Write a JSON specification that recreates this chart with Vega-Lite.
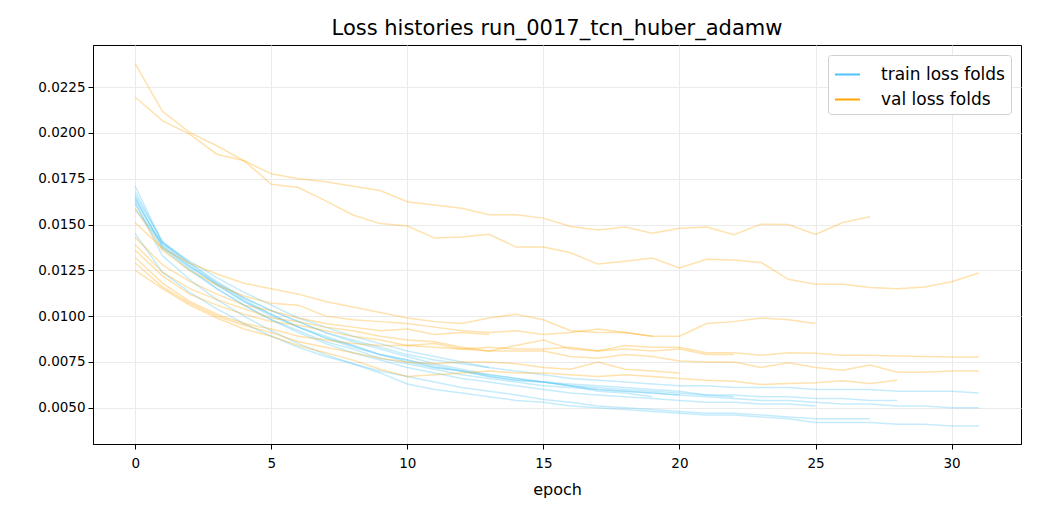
{
  "$schema": "https://vega.github.io/schema/vega-lite/v6.json",
  "autosize": "none",
  "width": 928,
  "height": 399,
  "padding": {"left": 93, "top": 45, "right": 19, "bottom": 76},
  "background": "white",
  "title": {"text": "Loss histories run_0017_tcn_huber_adamw", "fontSize": 21, "fontWeight": "normal", "font": "DejaVu Sans", "color": "black", "offset": 6},
  "config": {
    "font": "DejaVu Sans",
    "view": {"stroke": "black", "strokeWidth": 1},
    "axis": {"labelFontSize": 13.5, "titleFontSize": 16, "labelColor": "black", "titleColor": "black", "tickColor": "black", "domainColor": "black", "gridColor": "#ebebeb", "tickSize": 5, "labelPadding": 3, "titleFontWeight": "normal"}
  },
  "datasets": {
    "loss": [
      {"set":"train","fold":1,"epoch":0,"loss":0.0168},{"set":"train","fold":1,"epoch":1,"loss":0.0140},{"set":"train","fold":1,"epoch":2,"loss":0.0130},{"set":"train","fold":1,"epoch":3,"loss":0.0121},{"set":"train","fold":1,"epoch":4,"loss":0.0113},{"set":"train","fold":1,"epoch":5,"loss":0.0106},{"set":"train","fold":1,"epoch":6,"loss":0.0099},{"set":"train","fold":1,"epoch":7,"loss":0.0094},{"set":"train","fold":1,"epoch":8,"loss":0.0089},{"set":"train","fold":1,"epoch":9,"loss":0.0085},{"set":"train","fold":1,"epoch":10,"loss":0.0081},{"set":"train","fold":1,"epoch":11,"loss":0.0078},{"set":"train","fold":1,"epoch":12,"loss":0.0075},{"set":"train","fold":1,"epoch":13,"loss":0.0072},{"set":"train","fold":1,"epoch":14,"loss":0.0070},{"set":"train","fold":1,"epoch":15,"loss":0.0068},{"set":"train","fold":1,"epoch":16,"loss":0.0066},{"set":"train","fold":1,"epoch":17,"loss":0.0065},{"set":"train","fold":1,"epoch":18,"loss":0.0064},{"set":"train","fold":1,"epoch":19,"loss":0.0063},{"set":"train","fold":1,"epoch":20,"loss":0.0062},{"set":"train","fold":1,"epoch":21,"loss":0.0062},{"set":"train","fold":1,"epoch":22,"loss":0.0061},{"set":"train","fold":1,"epoch":23,"loss":0.0061},{"set":"train","fold":1,"epoch":24,"loss":0.0061},{"set":"train","fold":1,"epoch":25,"loss":0.0060},{"set":"train","fold":1,"epoch":26,"loss":0.0060},{"set":"train","fold":1,"epoch":27,"loss":0.0060},{"set":"train","fold":1,"epoch":28,"loss":0.0059},{"set":"train","fold":1,"epoch":29,"loss":0.0059},{"set":"train","fold":1,"epoch":30,"loss":0.0059},{"set":"train","fold":1,"epoch":31,"loss":0.0058},
      {"set":"train","fold":2,"epoch":0,"loss":0.0145},{"set":"train","fold":2,"epoch":1,"loss":0.0124},{"set":"train","fold":2,"epoch":2,"loss":0.0113},{"set":"train","fold":2,"epoch":3,"loss":0.0104},{"set":"train","fold":2,"epoch":4,"loss":0.0096},{"set":"train","fold":2,"epoch":5,"loss":0.0089},{"set":"train","fold":2,"epoch":6,"loss":0.0083},{"set":"train","fold":2,"epoch":7,"loss":0.0078},{"set":"train","fold":2,"epoch":8,"loss":0.0074},{"set":"train","fold":2,"epoch":9,"loss":0.0070},{"set":"train","fold":2,"epoch":10,"loss":0.0067},{"set":"train","fold":2,"epoch":11,"loss":0.0064},{"set":"train","fold":2,"epoch":12,"loss":0.0061},{"set":"train","fold":2,"epoch":13,"loss":0.0059},{"set":"train","fold":2,"epoch":14,"loss":0.0057},{"set":"train","fold":2,"epoch":15,"loss":0.00545},{"set":"train","fold":2,"epoch":16,"loss":0.0053},{"set":"train","fold":2,"epoch":17,"loss":0.0051},{"set":"train","fold":2,"epoch":18,"loss":0.0050},{"set":"train","fold":2,"epoch":19,"loss":0.0049},{"set":"train","fold":2,"epoch":20,"loss":0.0048},{"set":"train","fold":2,"epoch":21,"loss":0.0047},{"set":"train","fold":2,"epoch":22,"loss":0.0047},{"set":"train","fold":2,"epoch":23,"loss":0.0046},{"set":"train","fold":2,"epoch":24,"loss":0.0045},{"set":"train","fold":2,"epoch":25,"loss":0.0044},{"set":"train","fold":2,"epoch":26,"loss":0.0044},{"set":"train","fold":2,"epoch":27,"loss":0.0044},
      {"set":"train","fold":3,"epoch":0,"loss":0.0164},{"set":"train","fold":3,"epoch":1,"loss":0.0138},{"set":"train","fold":3,"epoch":2,"loss":0.0126},{"set":"train","fold":3,"epoch":3,"loss":0.0115},{"set":"train","fold":3,"epoch":4,"loss":0.0106},{"set":"train","fold":3,"epoch":5,"loss":0.0098},{"set":"train","fold":3,"epoch":6,"loss":0.0091},{"set":"train","fold":3,"epoch":7,"loss":0.0085},{"set":"train","fold":3,"epoch":8,"loss":0.0080},{"set":"train","fold":3,"epoch":9,"loss":0.0076},{"set":"train","fold":3,"epoch":10,"loss":0.0072},{"set":"train","fold":3,"epoch":11,"loss":0.0069},{"set":"train","fold":3,"epoch":12,"loss":0.0066},{"set":"train","fold":3,"epoch":13,"loss":0.0064},{"set":"train","fold":3,"epoch":14,"loss":0.0062},{"set":"train","fold":3,"epoch":15,"loss":0.0060},{"set":"train","fold":3,"epoch":16,"loss":0.0058},{"set":"train","fold":3,"epoch":17,"loss":0.0057},{"set":"train","fold":3,"epoch":18,"loss":0.0056},{"set":"train","fold":3,"epoch":19,"loss":0.0055},{"set":"train","fold":3,"epoch":20,"loss":0.0054},{"set":"train","fold":3,"epoch":21,"loss":0.0053},{"set":"train","fold":3,"epoch":22,"loss":0.0053},{"set":"train","fold":3,"epoch":23,"loss":0.0052},{"set":"train","fold":3,"epoch":24,"loss":0.0052},{"set":"train","fold":3,"epoch":25,"loss":0.0051},
      {"set":"train","fold":4,"epoch":0,"loss":0.0165},{"set":"train","fold":4,"epoch":1,"loss":0.0138},{"set":"train","fold":4,"epoch":2,"loss":0.0127},{"set":"train","fold":4,"epoch":3,"loss":0.0118},{"set":"train","fold":4,"epoch":4,"loss":0.0110},{"set":"train","fold":4,"epoch":5,"loss":0.0103},{"set":"train","fold":4,"epoch":6,"loss":0.0097},{"set":"train","fold":4,"epoch":7,"loss":0.0091},{"set":"train","fold":4,"epoch":8,"loss":0.0086},{"set":"train","fold":4,"epoch":9,"loss":0.0082},{"set":"train","fold":4,"epoch":10,"loss":0.0078},{"set":"train","fold":4,"epoch":11,"loss":0.0074},{"set":"train","fold":4,"epoch":12,"loss":0.0071},{"set":"train","fold":4,"epoch":13,"loss":0.0068},{"set":"train","fold":4,"epoch":14,"loss":0.0066},{"set":"train","fold":4,"epoch":15,"loss":0.0064},{"set":"train","fold":4,"epoch":16,"loss":0.0062},{"set":"train","fold":4,"epoch":17,"loss":0.0060},{"set":"train","fold":4,"epoch":18,"loss":0.0059},{"set":"train","fold":4,"epoch":19,"loss":0.0058},{"set":"train","fold":4,"epoch":20,"loss":0.0057},{"set":"train","fold":4,"epoch":21,"loss":0.0056},{"set":"train","fold":4,"epoch":22,"loss":0.0055},{"set":"train","fold":4,"epoch":23,"loss":0.0054},{"set":"train","fold":4,"epoch":24,"loss":0.0054},{"set":"train","fold":4,"epoch":25,"loss":0.0053},{"set":"train","fold":4,"epoch":26,"loss":0.0052},{"set":"train","fold":4,"epoch":27,"loss":0.0052},{"set":"train","fold":4,"epoch":28,"loss":0.0051},{"set":"train","fold":4,"epoch":29,"loss":0.0051},{"set":"train","fold":4,"epoch":30,"loss":0.0050},{"set":"train","fold":4,"epoch":31,"loss":0.0050},
      {"set":"train","fold":5,"epoch":0,"loss":0.0162},{"set":"train","fold":5,"epoch":1,"loss":0.0133},{"set":"train","fold":5,"epoch":2,"loss":0.0120},{"set":"train","fold":5,"epoch":3,"loss":0.0109},{"set":"train","fold":5,"epoch":4,"loss":0.0100},{"set":"train","fold":5,"epoch":5,"loss":0.0092},{"set":"train","fold":5,"epoch":6,"loss":0.0085},{"set":"train","fold":5,"epoch":7,"loss":0.0079},{"set":"train","fold":5,"epoch":8,"loss":0.0074},{"set":"train","fold":5,"epoch":9,"loss":0.0069},{"set":"train","fold":5,"epoch":10,"loss":0.0063},{"set":"train","fold":5,"epoch":11,"loss":0.0060},{"set":"train","fold":5,"epoch":12,"loss":0.0058},{"set":"train","fold":5,"epoch":13,"loss":0.0056},{"set":"train","fold":5,"epoch":14,"loss":0.0054},{"set":"train","fold":5,"epoch":15,"loss":0.0053},{"set":"train","fold":5,"epoch":16,"loss":0.0051},{"set":"train","fold":5,"epoch":17,"loss":0.0050},{"set":"train","fold":5,"epoch":18,"loss":0.0049},{"set":"train","fold":5,"epoch":19,"loss":0.0048},{"set":"train","fold":5,"epoch":20,"loss":0.0047},{"set":"train","fold":5,"epoch":21,"loss":0.0046},{"set":"train","fold":5,"epoch":22,"loss":0.0046},{"set":"train","fold":5,"epoch":23,"loss":0.0045},{"set":"train","fold":5,"epoch":24,"loss":0.0044},{"set":"train","fold":5,"epoch":25,"loss":0.0042},{"set":"train","fold":5,"epoch":26,"loss":0.0042},{"set":"train","fold":5,"epoch":27,"loss":0.0042},{"set":"train","fold":5,"epoch":28,"loss":0.0041},{"set":"train","fold":5,"epoch":29,"loss":0.0041},{"set":"train","fold":5,"epoch":30,"loss":0.0040},{"set":"train","fold":5,"epoch":31,"loss":0.0040},
      {"set":"train","fold":6,"epoch":0,"loss":0.0171},{"set":"train","fold":6,"epoch":1,"loss":0.0140},{"set":"train","fold":6,"epoch":2,"loss":0.0128},{"set":"train","fold":6,"epoch":3,"loss":0.0117},{"set":"train","fold":6,"epoch":4,"loss":0.0108},{"set":"train","fold":6,"epoch":5,"loss":0.0101},{"set":"train","fold":6,"epoch":6,"loss":0.0094},{"set":"train","fold":6,"epoch":7,"loss":0.0088},{"set":"train","fold":6,"epoch":8,"loss":0.0083},{"set":"train","fold":6,"epoch":9,"loss":0.0079},{"set":"train","fold":6,"epoch":10,"loss":0.0075},{"set":"train","fold":6,"epoch":11,"loss":0.0072},{"set":"train","fold":6,"epoch":12,"loss":0.0070},{"set":"train","fold":6,"epoch":13,"loss":0.0067},{"set":"train","fold":6,"epoch":14,"loss":0.0065},{"set":"train","fold":6,"epoch":15,"loss":0.0064},{"set":"train","fold":6,"epoch":16,"loss":0.0062},{"set":"train","fold":6,"epoch":17,"loss":0.0061},{"set":"train","fold":6,"epoch":18,"loss":0.0060},{"set":"train","fold":6,"epoch":19,"loss":0.0059},{"set":"train","fold":6,"epoch":20,"loss":0.0058},{"set":"train","fold":6,"epoch":21,"loss":0.0057},{"set":"train","fold":6,"epoch":22,"loss":0.0057},{"set":"train","fold":6,"epoch":23,"loss":0.0056},{"set":"train","fold":6,"epoch":24,"loss":0.0056},{"set":"train","fold":6,"epoch":25,"loss":0.0055},{"set":"train","fold":6,"epoch":26,"loss":0.0055},{"set":"train","fold":6,"epoch":27,"loss":0.0054},{"set":"train","fold":6,"epoch":28,"loss":0.0054},
      {"set":"train","fold":7,"epoch":0,"loss":0.0163},{"set":"train","fold":7,"epoch":1,"loss":0.0139},{"set":"train","fold":7,"epoch":2,"loss":0.0127},{"set":"train","fold":7,"epoch":3,"loss":0.0117},{"set":"train","fold":7,"epoch":4,"loss":0.0108},{"set":"train","fold":7,"epoch":5,"loss":0.0100},{"set":"train","fold":7,"epoch":6,"loss":0.0094},{"set":"train","fold":7,"epoch":7,"loss":0.0088},{"set":"train","fold":7,"epoch":8,"loss":0.0084},{"set":"train","fold":7,"epoch":9,"loss":0.0079},{"set":"train","fold":7,"epoch":10,"loss":0.0076},{"set":"train","fold":7,"epoch":11,"loss":0.0073},{"set":"train","fold":7,"epoch":12,"loss":0.0070},{"set":"train","fold":7,"epoch":13,"loss":0.0068},{"set":"train","fold":7,"epoch":14,"loss":0.0066},{"set":"train","fold":7,"epoch":15,"loss":0.0064},{"set":"train","fold":7,"epoch":16,"loss":0.0063},{"set":"train","fold":7,"epoch":17,"loss":0.0062},{"set":"train","fold":7,"epoch":18,"loss":0.0061},{"set":"train","fold":7,"epoch":19,"loss":0.0060},{"set":"train","fold":7,"epoch":20,"loss":0.0059},{"set":"train","fold":7,"epoch":21,"loss":0.0057},{"set":"train","fold":7,"epoch":22,"loss":0.0056},
      {"set":"train","fold":8,"epoch":0,"loss":0.0166},{"set":"train","fold":8,"epoch":1,"loss":0.0141},{"set":"train","fold":8,"epoch":2,"loss":0.0129},{"set":"train","fold":8,"epoch":3,"loss":0.0118},{"set":"train","fold":8,"epoch":4,"loss":0.0109},{"set":"train","fold":8,"epoch":5,"loss":0.0101},{"set":"train","fold":8,"epoch":6,"loss":0.0094},{"set":"train","fold":8,"epoch":7,"loss":0.0089},{"set":"train","fold":8,"epoch":8,"loss":0.0084},{"set":"train","fold":8,"epoch":9,"loss":0.0079},{"set":"train","fold":8,"epoch":10,"loss":0.0076},{"set":"train","fold":8,"epoch":11,"loss":0.0072},{"set":"train","fold":8,"epoch":12,"loss":0.0070},{"set":"train","fold":8,"epoch":13,"loss":0.0067},{"set":"train","fold":8,"epoch":14,"loss":0.0065},{"set":"train","fold":8,"epoch":15,"loss":0.0064},{"set":"train","fold":8,"epoch":16,"loss":0.0062},{"set":"train","fold":8,"epoch":17,"loss":0.0059},{"set":"train","fold":8,"epoch":18,"loss":0.0058},{"set":"train","fold":8,"epoch":19,"loss":0.0056},
      {"set":"train","fold":9,"epoch":0,"loss":0.0161},{"set":"train","fold":9,"epoch":1,"loss":0.0137},{"set":"train","fold":9,"epoch":2,"loss":0.0125},{"set":"train","fold":9,"epoch":3,"loss":0.0115},{"set":"train","fold":9,"epoch":4,"loss":0.0106},{"set":"train","fold":9,"epoch":5,"loss":0.0098},{"set":"train","fold":9,"epoch":6,"loss":0.0092},{"set":"train","fold":9,"epoch":7,"loss":0.0086},{"set":"train","fold":9,"epoch":8,"loss":0.0082},{"set":"train","fold":9,"epoch":9,"loss":0.0077},{"set":"train","fold":9,"epoch":10,"loss":0.0074},{"set":"train","fold":9,"epoch":11,"loss":0.0071},{"set":"train","fold":9,"epoch":12,"loss":0.0068},{"set":"train","fold":9,"epoch":13,"loss":0.0066},{"set":"train","fold":9,"epoch":14,"loss":0.0064},{"set":"train","fold":9,"epoch":15,"loss":0.0062},{"set":"train","fold":9,"epoch":16,"loss":0.0061},{"set":"train","fold":9,"epoch":17,"loss":0.0060},{"set":"train","fold":9,"epoch":18,"loss":0.0059},{"set":"train","fold":9,"epoch":19,"loss":0.0058},{"set":"train","fold":9,"epoch":20,"loss":0.0057},
      {"set":"train","fold":10,"epoch":0,"loss":0.0158},{"set":"train","fold":10,"epoch":1,"loss":0.0140},{"set":"train","fold":10,"epoch":2,"loss":0.0129},{"set":"train","fold":10,"epoch":3,"loss":0.0119},{"set":"train","fold":10,"epoch":4,"loss":0.0110},{"set":"train","fold":10,"epoch":5,"loss":0.0103},{"set":"train","fold":10,"epoch":6,"loss":0.0097},{"set":"train","fold":10,"epoch":7,"loss":0.0091},{"set":"train","fold":10,"epoch":8,"loss":0.0087},{"set":"train","fold":10,"epoch":9,"loss":0.0083},{"set":"train","fold":10,"epoch":10,"loss":0.0079},{"set":"train","fold":10,"epoch":11,"loss":0.0076},{"set":"train","fold":10,"epoch":12,"loss":0.0074},{"set":"train","fold":10,"epoch":13,"loss":0.0072},
      {"set":"val","fold":1,"epoch":0,"loss":0.02378},{"set":"val","fold":1,"epoch":1,"loss":0.02118},{"set":"val","fold":1,"epoch":2,"loss":0.02003},{"set":"val","fold":1,"epoch":3,"loss":0.0193},{"set":"val","fold":1,"epoch":4,"loss":0.01848},{"set":"val","fold":1,"epoch":5,"loss":0.0172},{"set":"val","fold":1,"epoch":6,"loss":0.01702},{"set":"val","fold":1,"epoch":7,"loss":0.01629},{"set":"val","fold":1,"epoch":8,"loss":0.01552},{"set":"val","fold":1,"epoch":9,"loss":0.01505},{"set":"val","fold":1,"epoch":10,"loss":0.01492},{"set":"val","fold":1,"epoch":11,"loss":0.01426},{"set":"val","fold":1,"epoch":12,"loss":0.01432},{"set":"val","fold":1,"epoch":13,"loss":0.01447},{"set":"val","fold":1,"epoch":14,"loss":0.01377},{"set":"val","fold":1,"epoch":15,"loss":0.01377},{"set":"val","fold":1,"epoch":16,"loss":0.01346},{"set":"val","fold":1,"epoch":17,"loss":0.01284},{"set":"val","fold":1,"epoch":18,"loss":0.01299},{"set":"val","fold":1,"epoch":19,"loss":0.01317},{"set":"val","fold":1,"epoch":20,"loss":0.01263},{"set":"val","fold":1,"epoch":21,"loss":0.0131},{"set":"val","fold":1,"epoch":22,"loss":0.01306},{"set":"val","fold":1,"epoch":23,"loss":0.01293},{"set":"val","fold":1,"epoch":24,"loss":0.01201},{"set":"val","fold":1,"epoch":25,"loss":0.01174},{"set":"val","fold":1,"epoch":26,"loss":0.01174},{"set":"val","fold":1,"epoch":27,"loss":0.01156},{"set":"val","fold":1,"epoch":28,"loss":0.0115},{"set":"val","fold":1,"epoch":29,"loss":0.01159},{"set":"val","fold":1,"epoch":30,"loss":0.01188},{"set":"val","fold":1,"epoch":31,"loss":0.01235},
      {"set":"val","fold":2,"epoch":0,"loss":0.02195},{"set":"val","fold":2,"epoch":1,"loss":0.02067},{"set":"val","fold":2,"epoch":2,"loss":0.01994},{"set":"val","fold":2,"epoch":3,"loss":0.01884},{"set":"val","fold":2,"epoch":4,"loss":0.01848},{"set":"val","fold":2,"epoch":5,"loss":0.01777},{"set":"val","fold":2,"epoch":6,"loss":0.0175},{"set":"val","fold":2,"epoch":7,"loss":0.01733},{"set":"val","fold":2,"epoch":8,"loss":0.01709},{"set":"val","fold":2,"epoch":9,"loss":0.01686},{"set":"val","fold":2,"epoch":10,"loss":0.01624},{"set":"val","fold":2,"epoch":11,"loss":0.01606},{"set":"val","fold":2,"epoch":12,"loss":0.01589},{"set":"val","fold":2,"epoch":13,"loss":0.01553},{"set":"val","fold":2,"epoch":14,"loss":0.01553},{"set":"val","fold":2,"epoch":15,"loss":0.01535},{"set":"val","fold":2,"epoch":16,"loss":0.01489},{"set":"val","fold":2,"epoch":17,"loss":0.0147},{"set":"val","fold":2,"epoch":18,"loss":0.01487},{"set":"val","fold":2,"epoch":19,"loss":0.01453},{"set":"val","fold":2,"epoch":20,"loss":0.0148},{"set":"val","fold":2,"epoch":21,"loss":0.01487},{"set":"val","fold":2,"epoch":22,"loss":0.01444},{"set":"val","fold":2,"epoch":23,"loss":0.01502},{"set":"val","fold":2,"epoch":24,"loss":0.015},{"set":"val","fold":2,"epoch":25,"loss":0.01446},{"set":"val","fold":2,"epoch":26,"loss":0.01511},{"set":"val","fold":2,"epoch":27,"loss":0.01542},
      {"set":"val","fold":3,"epoch":0,"loss":0.0151},{"set":"val","fold":3,"epoch":1,"loss":0.0137},{"set":"val","fold":3,"epoch":2,"loss":0.0129},{"set":"val","fold":3,"epoch":3,"loss":0.0123},{"set":"val","fold":3,"epoch":4,"loss":0.0118},{"set":"val","fold":3,"epoch":5,"loss":0.0115},{"set":"val","fold":3,"epoch":6,"loss":0.0112},{"set":"val","fold":3,"epoch":7,"loss":0.0108},{"set":"val","fold":3,"epoch":8,"loss":0.0105},{"set":"val","fold":3,"epoch":9,"loss":0.0102},{"set":"val","fold":3,"epoch":10,"loss":0.0099},{"set":"val","fold":3,"epoch":11,"loss":0.0097},{"set":"val","fold":3,"epoch":12,"loss":0.0096},{"set":"val","fold":3,"epoch":13,"loss":0.0099},{"set":"val","fold":3,"epoch":14,"loss":0.0101},{"set":"val","fold":3,"epoch":15,"loss":0.0098},{"set":"val","fold":3,"epoch":16,"loss":0.0092},{"set":"val","fold":3,"epoch":17,"loss":0.0091},{"set":"val","fold":3,"epoch":18,"loss":0.0091},{"set":"val","fold":3,"epoch":19,"loss":0.0089},{"set":"val","fold":3,"epoch":20,"loss":0.0089},{"set":"val","fold":3,"epoch":21,"loss":0.0096},{"set":"val","fold":3,"epoch":22,"loss":0.0097},{"set":"val","fold":3,"epoch":23,"loss":0.0099},{"set":"val","fold":3,"epoch":24,"loss":0.0098},{"set":"val","fold":3,"epoch":25,"loss":0.0096},
      {"set":"val","fold":4,"epoch":0,"loss":0.0139},{"set":"val","fold":4,"epoch":1,"loss":0.0124},{"set":"val","fold":4,"epoch":2,"loss":0.0115},{"set":"val","fold":4,"epoch":3,"loss":0.0109},{"set":"val","fold":4,"epoch":4,"loss":0.0104},{"set":"val","fold":4,"epoch":5,"loss":0.0099},{"set":"val","fold":4,"epoch":6,"loss":0.0097},{"set":"val","fold":4,"epoch":7,"loss":0.0094},{"set":"val","fold":4,"epoch":8,"loss":0.0092},{"set":"val","fold":4,"epoch":9,"loss":0.0089},{"set":"val","fold":4,"epoch":10,"loss":0.0087},{"set":"val","fold":4,"epoch":11,"loss":0.0086},{"set":"val","fold":4,"epoch":12,"loss":0.0083},{"set":"val","fold":4,"epoch":13,"loss":0.0081},{"set":"val","fold":4,"epoch":14,"loss":0.0084},{"set":"val","fold":4,"epoch":15,"loss":0.0087},{"set":"val","fold":4,"epoch":16,"loss":0.0082},{"set":"val","fold":4,"epoch":17,"loss":0.0081},{"set":"val","fold":4,"epoch":18,"loss":0.0084},{"set":"val","fold":4,"epoch":19,"loss":0.0083},{"set":"val","fold":4,"epoch":20,"loss":0.0083},{"set":"val","fold":4,"epoch":21,"loss":0.008},{"set":"val","fold":4,"epoch":22,"loss":0.008},{"set":"val","fold":4,"epoch":23,"loss":0.00786},{"set":"val","fold":4,"epoch":24,"loss":0.008},{"set":"val","fold":4,"epoch":25,"loss":0.00797},{"set":"val","fold":4,"epoch":26,"loss":0.00786},{"set":"val","fold":4,"epoch":27,"loss":0.00786},{"set":"val","fold":4,"epoch":28,"loss":0.00782},{"set":"val","fold":4,"epoch":29,"loss":0.0078},{"set":"val","fold":4,"epoch":30,"loss":0.00777},{"set":"val","fold":4,"epoch":31,"loss":0.00777},
      {"set":"val","fold":5,"epoch":0,"loss":0.0132},{"set":"val","fold":5,"epoch":1,"loss":0.0118},{"set":"val","fold":5,"epoch":2,"loss":0.0108},{"set":"val","fold":5,"epoch":3,"loss":0.0101},{"set":"val","fold":5,"epoch":4,"loss":0.0096},{"set":"val","fold":5,"epoch":5,"loss":0.0093},{"set":"val","fold":5,"epoch":6,"loss":0.0089},{"set":"val","fold":5,"epoch":7,"loss":0.0087},{"set":"val","fold":5,"epoch":8,"loss":0.0085},{"set":"val","fold":5,"epoch":9,"loss":0.0084},{"set":"val","fold":5,"epoch":10,"loss":0.0084},{"set":"val","fold":5,"epoch":11,"loss":0.0083},{"set":"val","fold":5,"epoch":12,"loss":0.0082},{"set":"val","fold":5,"epoch":13,"loss":0.0081},{"set":"val","fold":5,"epoch":14,"loss":0.0081},{"set":"val","fold":5,"epoch":15,"loss":0.0081},{"set":"val","fold":5,"epoch":16,"loss":0.0078},{"set":"val","fold":5,"epoch":17,"loss":0.0077},{"set":"val","fold":5,"epoch":18,"loss":0.0079},{"set":"val","fold":5,"epoch":19,"loss":0.0078},{"set":"val","fold":5,"epoch":20,"loss":0.00755},{"set":"val","fold":5,"epoch":21,"loss":0.0075},{"set":"val","fold":5,"epoch":22,"loss":0.0075},{"set":"val","fold":5,"epoch":23,"loss":0.0072},{"set":"val","fold":5,"epoch":24,"loss":0.00746},{"set":"val","fold":5,"epoch":25,"loss":0.0072},{"set":"val","fold":5,"epoch":26,"loss":0.00705},{"set":"val","fold":5,"epoch":27,"loss":0.00733},{"set":"val","fold":5,"epoch":28,"loss":0.00694},{"set":"val","fold":5,"epoch":29,"loss":0.00694},{"set":"val","fold":5,"epoch":30,"loss":0.007},{"set":"val","fold":5,"epoch":31,"loss":0.007},
      {"set":"val","fold":6,"epoch":0,"loss":0.0125},{"set":"val","fold":6,"epoch":1,"loss":0.0115},{"set":"val","fold":6,"epoch":2,"loss":0.0106},{"set":"val","fold":6,"epoch":3,"loss":0.0099},{"set":"val","fold":6,"epoch":4,"loss":0.0093},{"set":"val","fold":6,"epoch":5,"loss":0.0089},{"set":"val","fold":6,"epoch":6,"loss":0.0084},{"set":"val","fold":6,"epoch":7,"loss":0.008},{"set":"val","fold":6,"epoch":8,"loss":0.0076},{"set":"val","fold":6,"epoch":9,"loss":0.0071},{"set":"val","fold":6,"epoch":10,"loss":0.0067},{"set":"val","fold":6,"epoch":11,"loss":0.0068},{"set":"val","fold":6,"epoch":12,"loss":0.0069},{"set":"val","fold":6,"epoch":13,"loss":0.007},{"set":"val","fold":6,"epoch":14,"loss":0.0069},{"set":"val","fold":6,"epoch":15,"loss":0.0069},{"set":"val","fold":6,"epoch":16,"loss":0.0068},{"set":"val","fold":6,"epoch":17,"loss":0.0067},{"set":"val","fold":6,"epoch":18,"loss":0.0068},{"set":"val","fold":6,"epoch":19,"loss":0.0067},{"set":"val","fold":6,"epoch":20,"loss":0.0066},{"set":"val","fold":6,"epoch":21,"loss":0.0065},{"set":"val","fold":6,"epoch":22,"loss":0.00645},{"set":"val","fold":6,"epoch":23,"loss":0.00627},{"set":"val","fold":6,"epoch":24,"loss":0.00632},{"set":"val","fold":6,"epoch":25,"loss":0.00636},{"set":"val","fold":6,"epoch":26,"loss":0.00647},{"set":"val","fold":6,"epoch":27,"loss":0.00632},{"set":"val","fold":6,"epoch":28,"loss":0.0065},
      {"set":"val","fold":7,"epoch":0,"loss":0.0136},{"set":"val","fold":7,"epoch":1,"loss":0.0122},{"set":"val","fold":7,"epoch":2,"loss":0.0112},{"set":"val","fold":7,"epoch":3,"loss":0.0106},{"set":"val","fold":7,"epoch":4,"loss":0.0101},{"set":"val","fold":7,"epoch":5,"loss":0.0097},{"set":"val","fold":7,"epoch":6,"loss":0.0095},{"set":"val","fold":7,"epoch":7,"loss":0.0092},{"set":"val","fold":7,"epoch":8,"loss":0.0089},{"set":"val","fold":7,"epoch":9,"loss":0.0087},{"set":"val","fold":7,"epoch":10,"loss":0.0084},{"set":"val","fold":7,"epoch":11,"loss":0.0085},{"set":"val","fold":7,"epoch":12,"loss":0.0082},{"set":"val","fold":7,"epoch":13,"loss":0.0083},{"set":"val","fold":7,"epoch":14,"loss":0.0082},{"set":"val","fold":7,"epoch":15,"loss":0.0082},{"set":"val","fold":7,"epoch":16,"loss":0.0083},{"set":"val","fold":7,"epoch":17,"loss":0.0081},{"set":"val","fold":7,"epoch":18,"loss":0.0082},{"set":"val","fold":7,"epoch":19,"loss":0.0081},{"set":"val","fold":7,"epoch":20,"loss":0.0082},{"set":"val","fold":7,"epoch":21,"loss":0.0079},{"set":"val","fold":7,"epoch":22,"loss":0.0079},
      {"set":"val","fold":8,"epoch":0,"loss":0.0159},{"set":"val","fold":8,"epoch":1,"loss":0.0136},{"set":"val","fold":8,"epoch":2,"loss":0.0125},{"set":"val","fold":8,"epoch":3,"loss":0.0117},{"set":"val","fold":8,"epoch":4,"loss":0.0111},{"set":"val","fold":8,"epoch":5,"loss":0.0107},{"set":"val","fold":8,"epoch":6,"loss":0.0106},{"set":"val","fold":8,"epoch":7,"loss":0.01},{"set":"val","fold":8,"epoch":8,"loss":0.0098},{"set":"val","fold":8,"epoch":9,"loss":0.0097},{"set":"val","fold":8,"epoch":10,"loss":0.0096},{"set":"val","fold":8,"epoch":11,"loss":0.0094},{"set":"val","fold":8,"epoch":12,"loss":0.0092},{"set":"val","fold":8,"epoch":13,"loss":0.0091},{"set":"val","fold":8,"epoch":14,"loss":0.0092},{"set":"val","fold":8,"epoch":15,"loss":0.009},{"set":"val","fold":8,"epoch":16,"loss":0.0091},{"set":"val","fold":8,"epoch":17,"loss":0.0093},{"set":"val","fold":8,"epoch":18,"loss":0.0091},{"set":"val","fold":8,"epoch":19,"loss":0.0089},
      {"set":"val","fold":9,"epoch":0,"loss":0.0129},{"set":"val","fold":9,"epoch":1,"loss":0.0116},{"set":"val","fold":9,"epoch":2,"loss":0.0107},{"set":"val","fold":9,"epoch":3,"loss":0.01},{"set":"val","fold":9,"epoch":4,"loss":0.0095},{"set":"val","fold":9,"epoch":5,"loss":0.0091},{"set":"val","fold":9,"epoch":6,"loss":0.0086},{"set":"val","fold":9,"epoch":7,"loss":0.0083},{"set":"val","fold":9,"epoch":8,"loss":0.008},{"set":"val","fold":9,"epoch":9,"loss":0.0077},{"set":"val","fold":9,"epoch":10,"loss":0.0075},{"set":"val","fold":9,"epoch":11,"loss":0.0074},{"set":"val","fold":9,"epoch":12,"loss":0.0075},{"set":"val","fold":9,"epoch":13,"loss":0.0075},{"set":"val","fold":9,"epoch":14,"loss":0.0074},{"set":"val","fold":9,"epoch":15,"loss":0.0072},{"set":"val","fold":9,"epoch":16,"loss":0.0071},{"set":"val","fold":9,"epoch":17,"loss":0.0075},{"set":"val","fold":9,"epoch":18,"loss":0.0071},{"set":"val","fold":9,"epoch":19,"loss":0.007},{"set":"val","fold":9,"epoch":20,"loss":0.0069},
      {"set":"val","fold":10,"epoch":0,"loss":0.0143},{"set":"val","fold":10,"epoch":1,"loss":0.0128},{"set":"val","fold":10,"epoch":2,"loss":0.0119},{"set":"val","fold":10,"epoch":3,"loss":0.0112},{"set":"val","fold":10,"epoch":4,"loss":0.0106},{"set":"val","fold":10,"epoch":5,"loss":0.0103},{"set":"val","fold":10,"epoch":6,"loss":0.0099},{"set":"val","fold":10,"epoch":7,"loss":0.0096},{"set":"val","fold":10,"epoch":8,"loss":0.0094},{"set":"val","fold":10,"epoch":9,"loss":0.0092},{"set":"val","fold":10,"epoch":10,"loss":0.0093},{"set":"val","fold":10,"epoch":11,"loss":0.009},{"set":"val","fold":10,"epoch":12,"loss":0.0091},{"set":"val","fold":10,"epoch":13,"loss":0.009}
    ]
  },
  "data": {"name": "loss"},
  "mark": {"type": "line", "strokeWidth": 1.5, "opacity": 0.32, "clip": true},
  "encoding": {
    "x": {
      "field": "epoch", "type": "quantitative",
      "scale": {"domain": [-1.55, 32.55], "nice": false, "zero": false},
      "axis": {"values": [0, 5, 10, 15, 20, 25, 30], "format": "d", "title": "epoch", "titlePadding": 12, "labelPadding": 7, "grid": true}
    },
    "y": {
      "field": "loss", "type": "quantitative",
      "scale": {"domain": [0.00302, 0.0248], "nice": false, "zero": false},
      "axis": {"values": [0.005, 0.0075, 0.01, 0.0125, 0.015, 0.0175, 0.02, 0.0225], "format": ".4f", "title": null, "grid": true}
    },
    "color": {
      "field": "set", "type": "nominal",
      "scale": {"domain": ["train", "val"], "range": ["#4fc3f7", "#ffa500"]},
      "legend": {
        "title": null, "orient": "top-right", "offset": 10,
        "labelExpr": "datum.label + ' loss folds'",
        "symbolType": "stroke", "symbolStrokeWidth": 2, "symbolSize": 625, "symbolOpacity": 1,
        "labelFontSize": 17, "labelColor": "black", "labelOffset": 20, "rowPadding": 3,
        "padding": 6, "strokeColor": "#d0d0d0", "fillColor": "white", "cornerRadius": 3
      }
    },
    "detail": {"field": "fold", "type": "nominal"}
  }
}
